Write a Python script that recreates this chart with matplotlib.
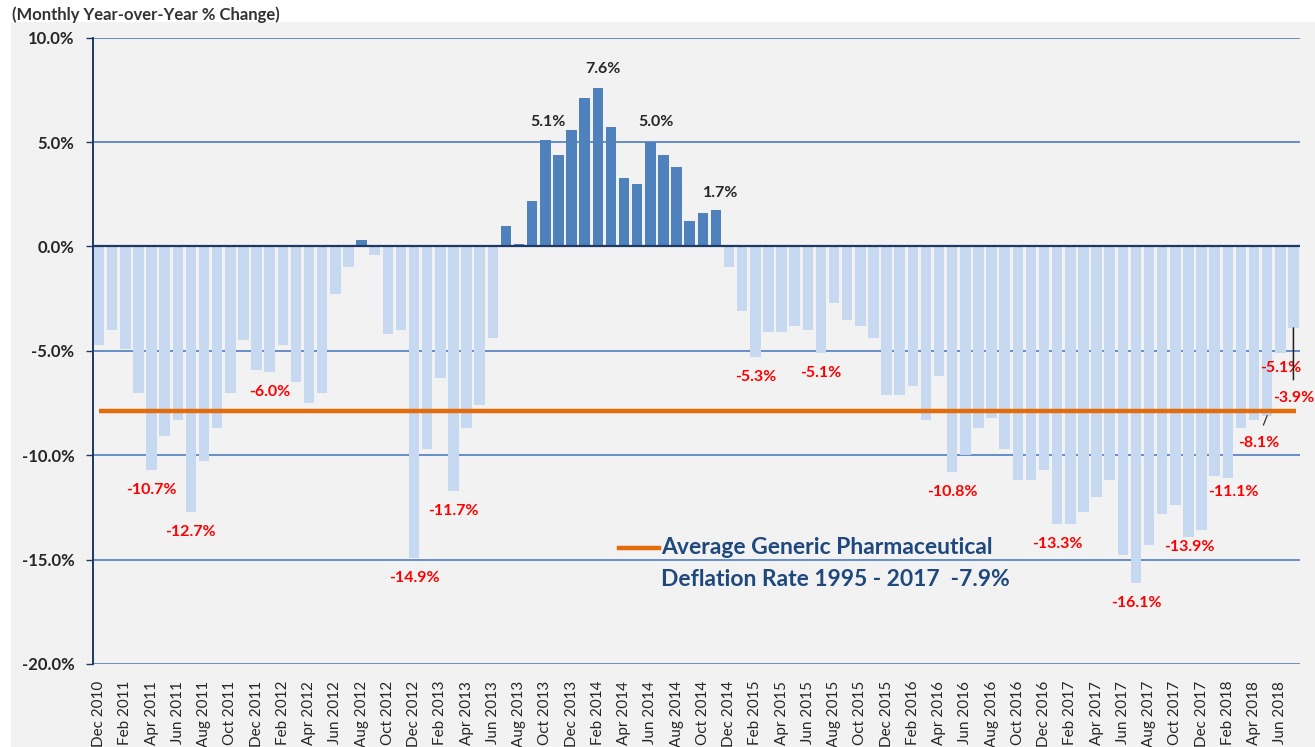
import matplotlib
matplotlib.use("Agg")
import matplotlib.pyplot as plt
import matplotlib.patches as mpatches
from matplotlib.lines import Line2D
import numpy as np
import pandas as pd

# ---------------- data ----------------
months = pd.date_range("2010-12-01", periods=92, freq="MS")
categories = [d.strftime("%b %Y") for d in months]

yoy_change = [
    -4.7, -4.0, -4.9, -7.0, -10.7, -9.1, -8.3, -12.7, -10.3, -8.7, -7.0, -4.5,
    -5.9, -6.0, -4.7, -6.5, -7.5, -7.0, -2.3, -1.0, 0.3, -0.4, -4.2, -4.0,
    -14.9, -9.7, -6.3, -11.7, -8.7, -7.6, -4.4, 1.0, 0.1, 2.2, 5.1, 4.4,
    5.6, 7.1, 7.6, 5.7, 3.3, 3.0, 5.0, 4.4, 3.8, 1.2, 1.6, 1.75,
    -1.0, -3.1, -5.3, -4.1, -4.1, -3.8, -4.0, -5.1, -2.7, -3.5, -3.8, -4.4,
    -7.1, -7.1, -6.7, -8.3, -6.2, -10.8, -10.0, -8.7, -8.2, -9.7, -11.2, -11.2,
    -10.7, -13.3, -13.3, -12.7, -12.0, -11.2, -14.8, -16.1, -14.3, -12.8, -12.4, -13.9,
    -13.6, -11.0, -11.1, -8.7, -8.3, -8.1, -5.1, -3.9,
]

average_rate = -7.9
legend_lines = ["Average Generic Pharmaceutical", "Deflation Rate 1995 - 2017  -7.9%"]

# labelled bars: index -> label text
bar_labels = {
    4: "-10.7%", 7: "-12.7%", 13: "-6.0%", 24: "-14.9%", 27: "-11.7%",
    34: "5.1%", 38: "7.6%", 42: "5.0%", 47: "1.7%",
    50: "-5.3%", 55: "-5.1%", 65: "-10.8%", 73: "-13.3%", 79: "-16.1%",
    83: "-13.9%", 86: "-11.1%", 89: "-8.1%", 90: "-5.1%", 91: "-3.9%",
}

y_ticks = [10, 5, 0, -5, -10, -15, -20]
y_tick_labels = ["10.0%", "5.0%", "0.0%", "-5.0%", "-10.0%", "-15.0%", "-20.0%"]
title_text = "(Monthly Year-over-Year % Change)"

# ---------------- styling ----------------
W, H = 1315, 747
FONT = ["Lato", "DejaVu Sans"]
plt.rcParams["font.family"] = FONT
BG = "#F2F2F2"
POS_C = "#4F81BD"
NEG_C = "#C6D9F0"
GRID_C = "#5B86C5"
NAVY = "#1F3864"
ORANGE = "#E46C0A"

# per-label offsets in pixels (dx, dy), dy positive = away from bar end
offsets_px = {i: (0, 20) for i in bar_labels}
offsets_px.update({34: (3, 18), 38: (5, 19), 42: (6, 20), 47: (5, 17),
                   83: (1, 10), 86: (6, 14), 89: (-8, 27), 90: (0, 15), 91: (0, 70)})

fig = plt.figure(figsize=(W / 100, H / 100), dpi=100)
fig.patch.set_facecolor("white")
fig.patches.append(mpatches.Rectangle((11 / W, 0), 1 - 11 / W, 1 - 22 / H,
                                      transform=fig.transFigure, facecolor=BG,
                                      edgecolor="none", zorder=-10))

ax = fig.add_axes([92.5 / W, 1 - 664 / H, (1300 - 92.5) / W, (664 - 37.7) / H])
ax.set_facecolor(BG)

x = np.arange(len(yoy_change))
vals = np.array(yoy_change)
colors = [POS_C if v > 0 else NEG_C for v in vals]
ax.bar(x, vals, width=0.8, color=colors, zorder=2)

ax.set_xlim(-0.5, len(vals) - 0.5)
ax.set_ylim(-20, 10)

for yt in y_ticks:
    if yt == 0:
        continue
    ax.axhline(yt, color=GRID_C, lw=1.3, zorder=1)
ax.axhline(0, color=NAVY, lw=1.6, zorder=3)

ax.plot([0, len(vals) - 1 + 0.2], [average_rate, average_rate], color=ORANGE, lw=3.2,
        solid_capstyle="butt", zorder=4)

for s in ["top", "right", "bottom"]:
    ax.spines[s].set_visible(False)
ax.spines["left"].set_color(NAVY)
ax.spines["left"].set_linewidth(1.4)
ax.spines["left"].set_zorder(5)

ax.set_yticks(y_ticks)
ax.set_yticklabels(y_tick_labels, fontsize=12, fontweight="bold", color="#262626")
ax.tick_params(axis="y", length=5, width=1, color=NAVY, pad=8)

ax.set_xticks(x[::2])
ax.set_xticklabels(categories[::2], rotation=90, fontsize=11, color="#262626")
ax.tick_params(axis="x", length=0, pad=12)

px2pt = 0.72
for i, txt in bar_labels.items():
    v = vals[i]
    dx, dy = offsets_px[i]
    sign = 1 if v > 0 else -1
    col = "#262626" if v > 0 else "#FF0000"
    kw = {}
    if i == 91:
        kw["arrowprops"] = dict(arrowstyle="-", color="#222222", lw=1.1,
                                shrinkA=6, shrinkB=0, relpos=(0.5, 1))
    if i == 89:
        kw["arrowprops"] = dict(arrowstyle="-", color="#333333", lw=0.9,
                                shrinkA=6, shrinkB=0, relpos=(0.5, 1))
    ax.annotate(txt, xy=(i, v), xytext=(dx * px2pt, sign * dy * px2pt),
                textcoords="offset points", ha="center", va="center",
                fontsize=11.5, fontweight="bold", color=col, zorder=6, **kw)

# legend-like text box
fig.lines.append(Line2D([619 / W, 659 / W], [1 - 548 / H, 1 - 548 / H],
                        transform=fig.transFigure, color=ORANGE, lw=3.2))
fig.text(661 / W, 1 - 548 / H, legend_lines[0], ha="left", va="center",
         fontsize=16.5, fontweight="bold", color="#1F497D")
fig.text(661 / W, 1 - 580 / H, legend_lines[1], ha="left", va="center",
         fontsize=16.5, fontweight="bold", color="#1F497D")

fig.text(12 / W, 1 - 15 / H, title_text, ha="left", va="center",
         fontsize=12, fontweight="bold", color="#333333")

fig.savefig("out.png", dpi=100, facecolor=fig.get_facecolor())
